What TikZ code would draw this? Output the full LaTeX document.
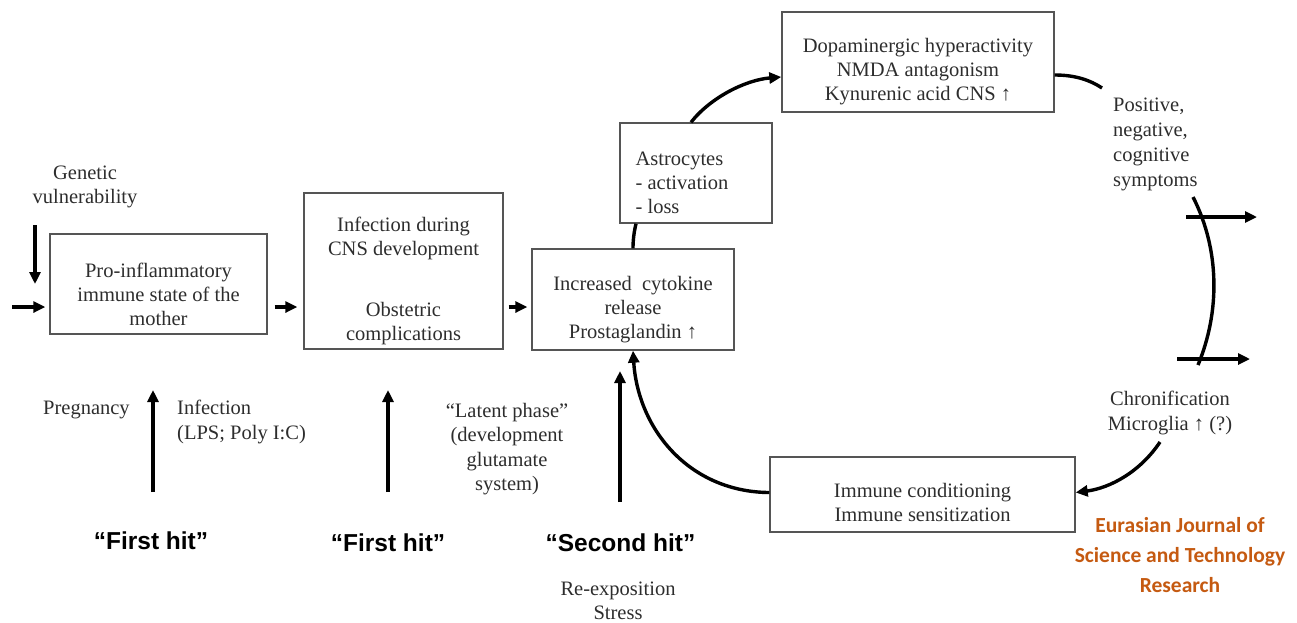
\documentclass[tikz,border=0pt]{standalone}
\usepackage{fontspec}
\setmainfont{Liberation Serif}
\newfontfamily\hitfont{Liberation Sans}
\newfontfamily\jfont{Carlito}
\usetikzlibrary{arrows.meta}
\definecolor{boxline}{RGB}{85,85,85}
\definecolor{txt}{RGB}{45,45,45}
\definecolor{journal}{RGB}{197,90,17}
\tikzset{
  box/.style={draw=boxline, line width=1.4pt, inner sep=0pt},
  boxtxt/.style={align=center, inner sep=0pt, text=txt, yshift=-10pt,
    font=\fontsize{20.5}{24}\selectfont},
  lbl/.style={align=center, inner sep=0pt, text=txt, font=\fontsize{20.5}{24.5}\selectfont},
  hit/.style={inner sep=0pt, font=\hitfont\bfseries\fontsize{24.5}{26}\selectfont},
  tip/.style={-{Triangle[length=12pt,width=11pt]}},
  arr/.style={line width=3.4pt, tip},
  cyc/.style={line width=3.4pt},
}
\begin{document}
\begin{tikzpicture}[x=1pt,y=-1pt]
\useasboundingbox (0,0) rectangle (1297,622);
% boxes
\node[box, minimum width=217pt, minimum height=100pt,
  label={[boxtxt]center:{Pro-inflammatory\\immune state of the\\mother}}] (mother) at (158.5,284) {};
\node[box, minimum width=199pt, minimum height=156pt,
  label={[boxtxt]center:{Infection during\\CNS development\\[37pt]Obstetric\\complications}}] (cns) at (403.5,271) {};
\node[box, minimum width=202pt, minimum height=101pt,
  label={[boxtxt]center:{Increased\ \ cytokine\\release\\Prostaglandin ↑}}] (cyt) at (633,299.5) {};
\node[box, minimum width=152pt, minimum height=100pt,
  label={[boxtxt, align=left, xshift=-14pt]center:{Astrocytes\\- activation\\- loss}}] (astro) at (696,173) {};
\node[box, minimum width=272pt, minimum height=100pt,
  label={[boxtxt]center:{Dopaminergic hyperactivity\\NMDA antagonism\\Kynurenic acid CNS ↑}}] (dop) at (918,62) {};
\node[box, minimum width=305pt, minimum height=75pt,
  label={[boxtxt, yshift=2pt]center:{Immune conditioning\\Immune sensitization}}] (imm) at (922.5,494.5) {};
% free labels
\node[lbl] (genetic) at (85,187) {Genetic\\vulnerability};
\node[lbl, anchor=west] (preg) at (43,410) {Pregnancy};
\node[lbl, anchor=north west, align=left] (inf) at (177,400) {Infection\\(LPS; Poly I:C)};
\node[lbl] (latent) at (507,449) {“Latent phase”\\(development\\glutamate\\system)};
\node[lbl, anchor=north west, align=left, font=\fontsize{20.5}{25}\selectfont] (pos) at (1113,98) {Positive,\\negative,\\cognitive\\symptoms};
\node[lbl] (chron) at (1170,413) {Chronification\\Microglia ↑ (?)};
\node[hit] (hit1) at (151,541) {“First hit”};
\node[hit] (hit2) at (388,543) {“First hit”};
\node[hit] (hit3) at (620.5,543) {“Second hit”};
\node[lbl] (reexp) at (618,601) {Re-exposition\\Stress};
\node[align=center, inner sep=0pt, text=journal, font=\jfont\bfseries\fontsize{21.5}{30}\selectfont] (journal) at (1180,555) {Eurasian Journal of\\Science and Technology\\Research};
% free ends
\coordinate (g0) at (35,225);
\coordinate (g1) at (35,284);
\coordinate (in0) at (12,307);
\coordinate (p0) at (153,492);
\coordinate (p1) at (153,390);
\coordinate (q0) at (388,492);
\coordinate (q1) at (388,390);
\coordinate (s0) at (620,502);
\coordinate (s1) at (620,371);
\coordinate (d1) at (1102,88);
\coordinate (b0) at (1193,197);
\coordinate (b1) at (1198,365);
\coordinate (h0) at (1186,217);
\coordinate (h1) at (1257,217);
\coordinate (k0) at (1177,359);
\coordinate (k1) at (1250,359);
\coordinate (c0) at (1160,442);
% straight arrows
\draw[arr] (g0) -- (g1);
\draw[arr] (in0) -- ([xshift=-4pt]in0 -| mother.west);
\draw[arr] ([xshift=7pt]in0 -| mother.east) -- ([xshift=-6pt]in0 -| cns.west);
\draw[arr] ([xshift=5pt]in0 -| cns.east) -- ([xshift=-4pt]in0 -| cyt.west);
\draw[arr] (p0) -- (p1);
\draw[arr] (q0) -- (q1);
\draw[arr] (s0) -- (s1);
% cycle
\draw[cyc] (cyt.north) .. controls (633,240) and (634,232) .. ([xshift=-60pt]astro.south);
\draw[cyc, tip] ([xshift=-5pt]astro.north) .. controls (710,98) and (745,80) .. ([yshift=-15pt]dop.west);
\draw[cyc] ([yshift=-13pt]dop.east) .. controls (1075,75) and (1090,80) .. (d1);
\draw[cyc] (b0) .. controls (1220,250) and (1220,312) .. (b1);
\draw[arr] (h0) -- (h1);
\draw[arr] (k0) -- (k1);
\draw[cyc, tip] (c0) .. controls (1140,472) and (1110,488) .. ([yshift=2pt]imm.east);
\draw[cyc, tip] ([yshift=2pt]imm.west) .. controls (690,492) and (638,430) .. (cyt.south);
\end{tikzpicture}
\end{document}
